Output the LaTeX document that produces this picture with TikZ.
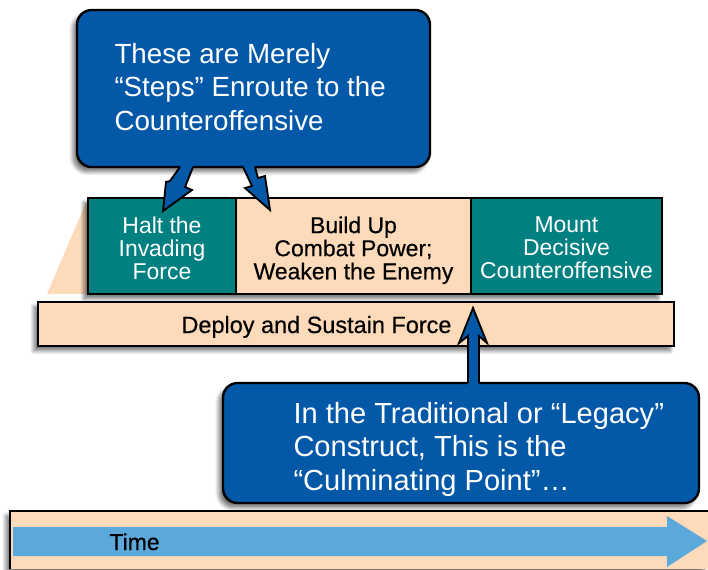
\documentclass[tikz,border=0pt]{standalone}
\usepackage{fontspec}
\setmainfont{Liberation Sans}
\newfontfamily\inkfont[FakeBold=0.45]{Liberation Sans}
\usetikzlibrary{shadows.blur}

\definecolor{noteblue}{RGB}{3,88,168}
\definecolor{phaseteal}{RGB}{0,128,128}
\definecolor{phasepeach}{RGB}{253,218,185}
\definecolor{timeblue}{RGB}{91,168,219}

\tikzset{every picture/.style={line width=0.75pt}}
\tikzset{
  softshadow/.style={blur shadow={shadow xshift=-3pt, shadow yshift=-3.5pt, shadow blur radius=3pt, shadow blur steps=8, shadow opacity=55}},
  notebox/.style={fill=noteblue, draw=black, line width=1.8, rounded corners=11pt, softshadow},
  notetext/.style={anchor=north west, inner sep=0pt, text=white, align=left, font=\fontsize{20.8}{25}\selectfont},
  phasetext/.style={anchor=north, inner sep=0pt, align=center, font=\fontsize{17.2}{17.3}\selectfont},
  bolt/.style={fill=noteblue},
  boltline/.style={draw=black, line width=1.4, line join=miter}
}

\begin{document}
\begin{tikzpicture}[x=0.75pt,y=0.75pt,yscale=-1,xscale=1]
\useasboundingbox (0,0) rectangle (708,569);

%Time band
\fill [phasepeach, softshadow]  (10,511) rectangle (708,569) ;
\draw [line width=1.5]  (10,569) -- (10,511) -- (708,511) ;
%Time arrow
\fill [timeblue]  (13,527) -- (667,527) -- (667,516) -- (707,541) -- (667,567) -- (667,556) -- (13,556) -- cycle ;

%Left slope behind the phases
\fill [phasepeach]  (47,294) -- (88,198) -- (100,198) -- (100,294) -- cycle ;
%Phase row
\fill [softshadow, phasepeach]  (88,198) rectangle (662,294) ;
\filldraw [fill=phaseteal, line width=1.5]  (88,198) rectangle (236,294) ;
\filldraw [fill=phasepeach, line width=1.5]  (236,198) rectangle (471,294) ;
\filldraw [fill=phaseteal, line width=1.5]  (471,198) rectangle (662,294) ;
%Deploy bar
\filldraw [fill=phasepeach, line width=1.5, softshadow]  (38,302) rectangle (674,346) ;

%Upper note
\draw [notebox]  (77,10) rectangle (430,167) ;
%Bolt to halt
\fill [bolt]  (180,160) -- (180,167) -- (170,181) -- (166,182) -- (163,211) -- (192,190) -- (185,187) -- (193,167) -- (193,160) -- cycle ;
\draw [boltline]  (180,167) -- (170,181) -- (166,182) -- (163,211) -- (192,190) -- (185,187) -- (193,167) ;
%Bolt to build up
\fill [bolt]  (243,160) -- (243,167) -- (252,186) -- (245,188) -- (270,210) -- (265,176) -- (258,178) -- (255,167) -- (255,160) -- cycle ;
\draw [boltline]  (243,167) -- (252,186) -- (245,188) -- (270,210) -- (265,176) -- (258,178) -- (255,167) ;

%Lower note
\draw [notebox]  (223,383) rectangle (699,503) ;
%Arrow up to the deploy bar
\fill [bolt]  (468,390) -- (468,336) -- (459,343) -- (473,308) -- (487,343) -- (479,336) -- (479,390) -- cycle ;
\draw [boltline]  (468,383) -- (468,336) -- (459,343) -- (473,308) -- (487,343) -- (479,336) -- (479,383) ;

% Text Node
\draw (114,43) node [notetext] (stepsnote) {These are Merely\\“Steps” Enroute to the\\Counteroffensive};
% Text Node
\draw (293,402) node [notetext, font=\fontsize{21.8}{25}\selectfont] (legacynote) {In the Traditional or “Legacy”\\Construct, This is the\\“Culminating Point”…};
% Text Node
\draw (162,216) node [phasetext, text=white] (halt) {Halt the\\Invading\\Force};
% Text Node
\draw (353.5,216) node [phasetext, font=\fontsize{17.2}{17.3}\selectfont\inkfont] (buildup) {Build Up\\Combat Power;\\Weaken the Enemy};
% Text Node
\draw (566.5,216) node [phasetext, text=white] (mount) {Mount\\Decisive\\Counteroffensive};
% Text Node
\draw (316.5,333) node [anchor=base, inner sep=0pt, font=\fontsize{17.6}{17.6}\selectfont\inkfont] (deploy) {Deploy and Sustain Force};
% Text Node
\draw (109,550) node [anchor=base west, inner sep=0pt, font=\fontsize{17.2}{17.3}\selectfont\inkfont] (time) {Time};

\end{tikzpicture}
\end{document}
